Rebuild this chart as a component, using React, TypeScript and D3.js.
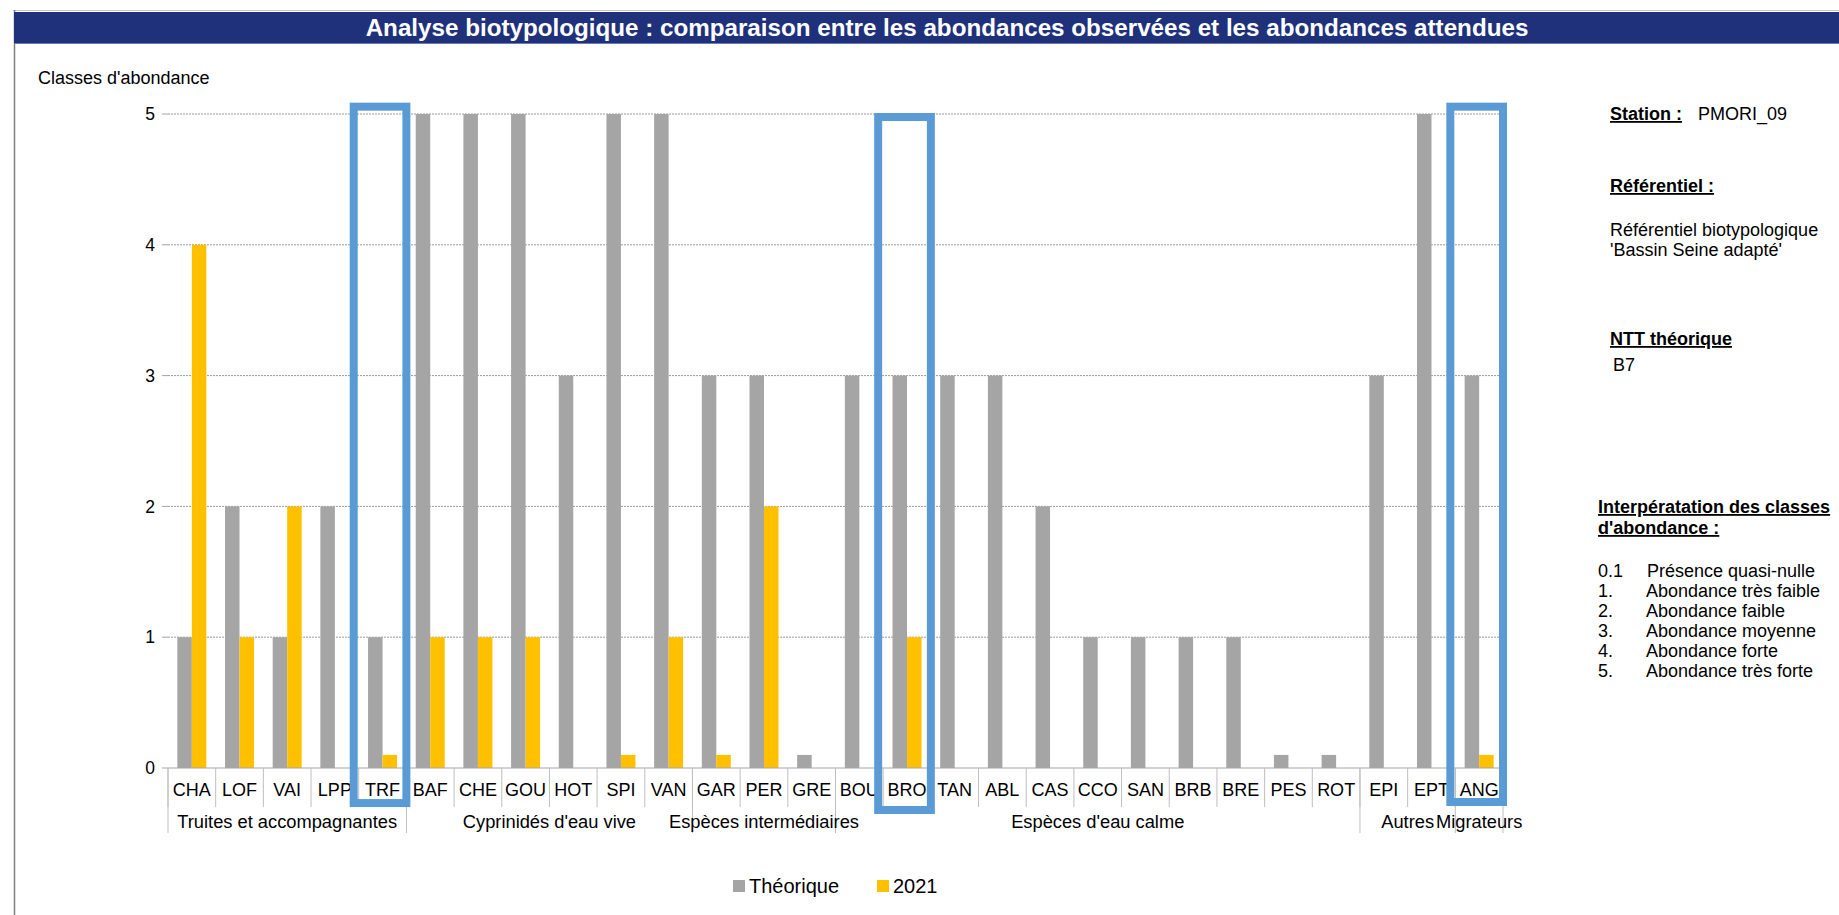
import React from "react";
import * as d3 from "d3";

const categories = ["CHA","LOF","VAI","LPP","TRF","BAF","CHE","GOU","HOT","SPI","VAN","GAR","PER","GRE","BOU","BRO","TAN","ABL","CAS","CCO","SAN","BRB","BRE","PES","ROT","EPI","EPT","ANG"];
const theorique = [1,2,1,2,1,5,5,5,3,5,5,3,3,0.1,3,3,3,3,2,1,1,1,1,0.1,0.1,3,5,3];
const obs2021 = [4,1,2,0,0.1,1,1,1,0,0.1,1,0.1,2,0,0,1,0,0,0,0,0,0,0,0,0,0,0,0.1];
const groupNames = ["Truites et accompagnantes","Cyprinidés d'eau vive","Espèces intermédiaires","Espèces d'eau calme","Autres","Migrateurs"];
const groupStarts = ["CHA","BAF","GAR","BOU","EPI","ANG"];
const yTicks = [0,1,2,3,4,5];
const highlighted = ["TRF","BRO","ANG"];
const seriesNames = ["Théorique","2021"];
const legendLines = [
  ["0.1","Présence quasi-nulle"],
  ["1.","Abondance très faible"],
  ["2.","Abondance faible"],
  ["3.","Abondance moyenne"],
  ["4.","Abondance forte"],
  ["5.","Abondance très forte"],
];

const W = 1839, H = 915;
const FONT = "'Liberation Sans', Arial, sans-serif";
const GRAY = "#A5A5A5";
const YELLOW = "#FFC000";
const BLUE = "#5B9BD5";
const NAVY = "#1F317B";

export default function App() {
  const x = d3.scaleBand<string>().domain(categories).range([168, 1503]).padding(0);
  const xs = d3.scaleBand<string>().domain(["th","obs"]).range([0, x.bandwidth()]).paddingInner(0).paddingOuter(0.644);
  const y = d3.scaleLinear().domain([0, 5]).range([768, 114]);
  const bw = xs.bandwidth();

  const groupBounds = groupStarts.map((g, i) => {
    const s = x(g)!;
    const e = i < groupStarts.length - 1 ? x(groupStarts[i + 1])! : 1503;
    return { name: groupNames[i], s, e };
  });

  // box extents expressed in axis units (top, bottom)
  const boxYs: Record<string, [number, number]> = { TRF: [5.056, -0.268], BRO: [4.977, -0.321], ANG: [5.056, -0.26] };

  return (
    <svg width={W} height={H} style={{ position: "absolute", left: 0, top: 0, background: "#fff" }} fontFamily={FONT}>
      <rect x={0} y={0} width={W} height={H} fill="#fff" />
      {/* frame */}
      <line x1={13} x2={W} y1={10.5} y2={10.5} stroke="#C8C8C8" strokeWidth={1} />
      <line x1={14.5} x2={14.5} y1={10} y2={H} stroke="#7F7F7F" strokeWidth={1.5} />
      <rect x={14} y={12} width={W - 14} height={31} fill={NAVY} />
      <line x1={14} x2={W} y1={43.5} y2={43.5} stroke="#6A7BB5" strokeWidth={1} />
      <text x={947} y={36} textAnchor="middle" fill="#fff" fontWeight="bold" fontSize={24.2}>
        Analyse biotypologique : comparaison entre les abondances observées et les abondances attendues
      </text>

      {/* axis title */}
      <text x={38} y={84} fontSize={18} fill="#000">Classes d'abondance</text>

      {/* gridlines */}
      {yTicks.filter(t => t > 0).map(t => (
        <line key={"g" + t} x1={168} x2={1503} y1={y(t)} y2={y(t)} stroke="#9A9A9A" strokeWidth={1} strokeDasharray="2,1" />
      ))}
      {yTicks.map(t => (
        <g key={"t" + t}>
          <line x1={162} x2={168} y1={y(t)} y2={y(t)} stroke="#A6A6A6" strokeWidth={1} />
          <text x={155} y={y(t)} dy="0.35em" textAnchor="end" fontSize={17.5} fill="#000">{t}</text>
        </g>
      ))}

      {/* bars */}
      {categories.map((c, i) => (
        <g key={c}>
          <rect x={x(c)! + xs("th")!} y={y(theorique[i])} width={bw} height={y(0) - y(theorique[i])} fill={GRAY} />
          {obs2021[i] > 0 && (
            <rect x={x(c)! + xs("obs")!} y={y(obs2021[i])} width={bw} height={y(0) - y(obs2021[i])} fill={YELLOW} />
          )}
        </g>
      ))}

      {/* x axis */}
      <line x1={168} x2={1503} y1={y(0)} y2={y(0)} stroke="#A6A6A6" strokeWidth={1.2} />
      {categories.map((c) => (
        <line key={"s" + c} x1={x(c)!} x2={x(c)!} y1={y(0)} y2={807} stroke="#BFBFBF" strokeWidth={1} />
      ))}
      {groupBounds.map(g => (
        <line key={"gb" + g.name} x1={g.s} x2={g.s} y1={y(0)} y2={833} stroke="#BFBFBF" strokeWidth={1} />
      ))}
      <line x1={1503} x2={1503} y1={y(0)} y2={833} stroke="#BFBFBF" strokeWidth={1} />
      {categories.map((c) => (
        <text key={"l" + c} x={x(c)! + x.bandwidth() / 2} y={796} textAnchor="middle" fontSize={18} fill="#000">{c}</text>
      ))}
      {groupBounds.map(g => (
        <text key={"gl" + g.name} x={(g.s + g.e) / 2} y={828} textAnchor="middle" fontSize={18.3} fill="#000">{g.name}</text>
      ))}

      {/* highlight boxes */}
      {highlighted.map(c => {
        const [t, b] = boxYs[c];
        return (
          <rect key={"b" + c} x={x(c)! - 5} y={y(t)} width={x.bandwidth() + 5} height={y(b) - y(t)} fill="none" stroke={BLUE} strokeWidth={8} />
        );
      })}

      {/* legend */}
      <rect x={733} y={880} width={12} height={12} fill={GRAY} />
      <text x={749} y={893} fontSize={20} fill="#000">{seriesNames[0]}</text>
      <rect x={877} y={880} width={12} height={12} fill={YELLOW} />
      <text x={893} y={893} fontSize={20} fill="#000">{seriesNames[1]}</text>

      {/* right panel */}
      <g fontSize={18} fill="#000">
        <text x={1610} y={120} fontWeight="bold" textDecoration="underline">Station :</text>
        <text x={1698} y={120}>PMORI_09</text>
        <text x={1610} y={192} fontWeight="bold" textDecoration="underline">Référentiel :</text>
        <text x={1610} y={236}>Référentiel  biotypologique</text>
        <text x={1610} y={256}>'Bassin Seine adapté'</text>
        <text x={1610} y={345} fontWeight="bold" textDecoration="underline">NTT théorique</text>
        <text x={1613} y={371}>B7</text>
        <text x={1598} y={513} fontWeight="bold" textDecoration="underline">Interpératation des classes</text>
        <text x={1598} y={534} fontWeight="bold" textDecoration="underline">d'abondance :</text>
        {legendLines.map((l, i) => (
          <g key={"ll" + i}>
            <text x={1598} y={577 + i * 20}>{l[0]}</text>
            <text x={i === 0 ? 1647 : 1646} y={577 + i * 20}>{l[1]}</text>
          </g>
        ))}
      </g>
    </svg>
  );
}
